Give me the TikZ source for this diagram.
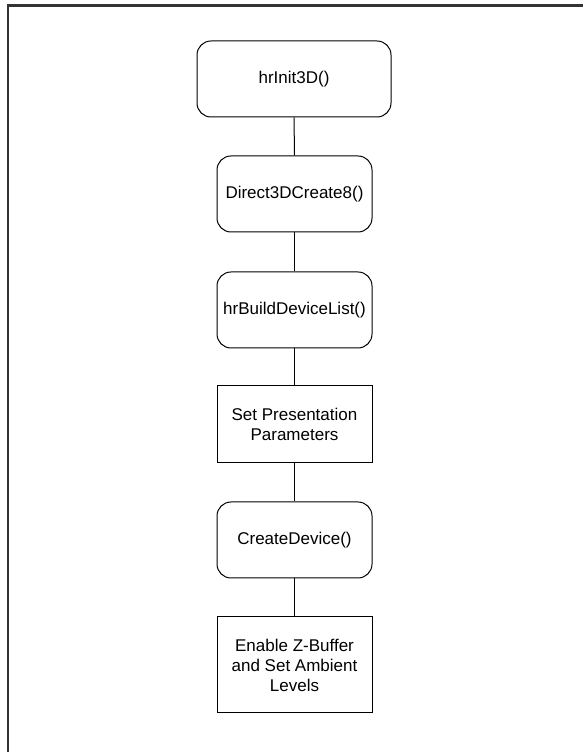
\documentclass[tikz,border=0pt]{standalone}
\usepackage{fontspec}
\setmainfont{Liberation Sans}
\usepackage{tikz}
\usetikzlibrary{positioning}

\begin{document}
\begin{tikzpicture}[
  x=1pt, y=1pt,
  callbox/.style={
    draw,
    line width=1pt,
    rounded corners=14pt,
    minimum width=155pt,
    minimum height=76pt,
    inner sep=0pt,
    align=center,
    font=\fontsize{17}{20}\selectfont
  },
  stepbox/.style={
    callbox,
    rounded corners=0pt
  },
  link/.style={line width=1pt}
]

\useasboundingbox (0,0) rectangle (583,752);

% frame edges
\draw[line width=2.2pt, black!80] (8,0) -- (8,746.5) -- (583,746.5);

\node[callbox, minimum width=194pt] (init) at (294,673)
  {hrInit3D()};

\node[callbox] (create) at (294.5,558)
  {Direct3DCreate8()};

\node[callbox] (devlist) at (294.5,442)
  {hrBuildDeviceList()};

\node[stepbox, minimum height=77pt] (params) at (294.5,327.5)
  {Set Presentation\\ Parameters};

\node[callbox] (device) at (294.5,212)
  {CreateDevice()};

\node[stepbox, minimum height=96pt] (zbuf) at (294.5,87)
  {Enable Z-Buffer\\ and Set Ambient\\ Levels};

\draw[link] (init) -- (create);
\draw[link] (create) -- (devlist);
\draw[link] (devlist) -- (params);
\draw[link] (params) -- (device);
\draw[link] (device) -- (zbuf);

\end{tikzpicture}
\end{document}
